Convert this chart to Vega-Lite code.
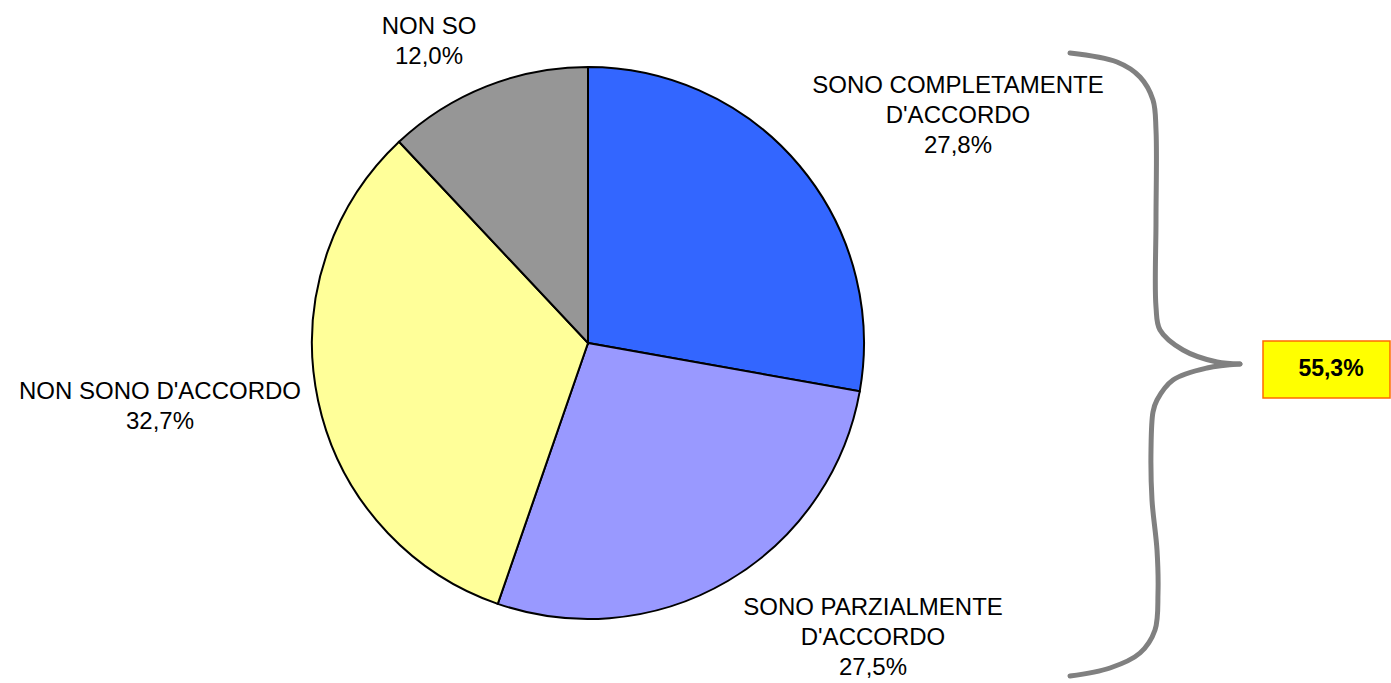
{
  "$schema": "https://vega.github.io/schema/vega-lite/v6.json",
  "width": 1176,
  "height": 680,
  "autosize": {"type": "none"},
  "padding": {"left": 0, "top": 3, "right": 215, "bottom": 0},
  "background": "white",
  "config": {"view": {"stroke": null}, "font": "Liberation Sans"},
  "datasets": {
    "pie": [
      {"k": 1, "cat": "SONO COMPLETAMENTE D'ACCORDO", "value": 27.8, "label": "SONO COMPLETAMENTE\nD'ACCORDO\n27,8%", "lx": 958, "ly": 86},
      {"k": 2, "cat": "SONO PARZIALMENTE D'ACCORDO", "value": 27.5, "label": "SONO PARZIALMENTE\nD'ACCORDO\n27,5%", "lx": 873, "ly": 608},
      {"k": 3, "cat": "NON SONO D'ACCORDO", "value": 32.7, "label": "NON SONO D'ACCORDO\n32,7%", "lx": 160, "ly": 392},
      {"k": 4, "cat": "NON SO", "value": 12.0, "label": "NON SO\n12,0%", "lx": 429, "ly": 27}
    ],
    "brace": [
      {"part": "top", "i": 1, "bx": 1070, "by": 53},
      {"part": "top", "i": 2, "bx": 1117, "by": 62},
      {"part": "top", "i": 3, "bx": 1140, "by": 77},
      {"part": "top", "i": 4, "bx": 1153, "by": 100},
      {"part": "top", "i": 5, "bx": 1156, "by": 130},
      {"part": "top", "i": 6, "bx": 1156, "by": 220},
      {"part": "top", "i": 7, "bx": 1156, "by": 307},
      {"part": "top", "i": 8, "bx": 1160, "by": 330},
      {"part": "top", "i": 9, "bx": 1183, "by": 350},
      {"part": "top", "i": 10, "bx": 1217, "by": 362},
      {"part": "top", "i": 11, "bx": 1240, "by": 364},
      {"part": "bottom", "i": 1, "bx": 1240, "by": 364},
      {"part": "bottom", "i": 2, "bx": 1207, "by": 368},
      {"part": "bottom", "i": 3, "bx": 1173, "by": 380},
      {"part": "bottom", "i": 4, "bx": 1157, "by": 400},
      {"part": "bottom", "i": 5, "bx": 1153, "by": 412},
      {"part": "bottom", "i": 6, "bx": 1151, "by": 450},
      {"part": "bottom", "i": 7, "bx": 1152, "by": 500},
      {"part": "bottom", "i": 8, "bx": 1157, "by": 550},
      {"part": "bottom", "i": 9, "bx": 1158, "by": 593},
      {"part": "bottom", "i": 10, "bx": 1155, "by": 630},
      {"part": "bottom", "i": 11, "bx": 1140, "by": 653},
      {"part": "bottom", "i": 12, "bx": 1110, "by": 668},
      {"part": "bottom", "i": 13, "bx": 1070, "by": 676}
    ],
    "box": [
      {"x1": 1263, "x2": 1390, "y1": 341, "y2": 398, "tx": 1331, "ty": 369, "txt": "55,3%"}
    ]
  },
  "layer": [
    {
      "data": {"name": "pie"},
      "mark": {"type": "arc", "outerRadius": 276, "stroke": "black", "strokeWidth": 2},
      "encoding": {
        "theta": {"field": "value", "type": "quantitative", "stack": true},
        "order": {"field": "k", "type": "quantitative"},
        "color": {
          "field": "cat", "type": "nominal", "legend": null,
          "scale": {
            "domain": ["SONO COMPLETAMENTE D'ACCORDO", "SONO PARZIALMENTE D'ACCORDO", "NON SONO D'ACCORDO", "NON SO"],
            "range": ["#3366FF", "#9999FF", "#FFFF99", "#969696"]
          }
        }
      }
    },
    {
      "data": {"name": "pie"},
      "mark": {"type": "text", "fontSize": 24, "lineBreak": "\n", "lineHeight": 30, "align": "center", "baseline": "middle", "color": "black"},
      "encoding": {
        "x": {"field": "lx", "type": "quantitative", "axis": null, "scale": {"domain": [0, 1176], "zero": false, "nice": false}},
        "y": {"field": "ly", "type": "quantitative", "axis": null, "scale": {"domain": [3, 683], "reverse": true, "zero": false, "nice": false}},
        "text": {"field": "label"}
      }
    },
    {
      "data": {"name": "brace"},
      "mark": {"type": "line", "interpolate": "catmull-rom", "stroke": "#808080", "strokeWidth": 5, "strokeCap": "round", "strokeJoin": "round"},
      "encoding": {
        "x": {"field": "bx", "type": "quantitative", "axis": null, "scale": {"domain": [0, 1176], "zero": false, "nice": false}},
        "y": {"field": "by", "type": "quantitative", "axis": null, "scale": {"domain": [3, 683], "reverse": true, "zero": false, "nice": false}},
        "detail": {"field": "part"},
        "order": {"field": "i", "type": "quantitative"}
      }
    },
    {
      "data": {"name": "box"},
      "mark": {"type": "rect", "fill": "#FFFF00", "stroke": "#FF6A00", "strokeWidth": 1.5},
      "encoding": {
        "x": {"field": "x1", "type": "quantitative", "axis": null, "scale": {"domain": [0, 1176], "zero": false, "nice": false}},
        "x2": {"field": "x2"},
        "y": {"field": "y1", "type": "quantitative", "axis": null, "scale": {"domain": [3, 683], "reverse": true, "zero": false, "nice": false}},
        "y2": {"field": "y2"}
      }
    },
    {
      "data": {"name": "box"},
      "mark": {"type": "text", "fontSize": 23, "fontWeight": "bold", "align": "center", "baseline": "middle", "color": "black"},
      "encoding": {
        "x": {"field": "tx", "type": "quantitative", "axis": null, "scale": {"domain": [0, 1176], "zero": false, "nice": false}},
        "y": {"field": "ty", "type": "quantitative", "axis": null, "scale": {"domain": [3, 683], "reverse": true, "zero": false, "nice": false}},
        "text": {"field": "txt"}
      }
    }
  ]
}
